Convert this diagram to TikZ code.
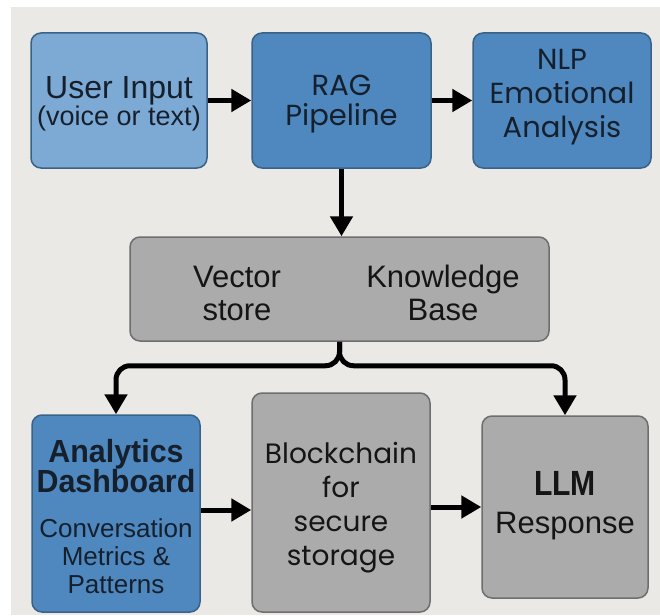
\documentclass[tikz,border=0pt]{standalone}
\usepackage{fontspec}
\setmainfont{Liberation Sans}
\newfontfamily\popfont{Poppins}
\newfontfamily\narrowfont[FakeStretch=0.86]{Liberation Sans}
\newfontfamily\semifont[FakeStretch=0.95]{Liberation Sans}
\usetikzlibrary{arrows.meta}
\definecolor{bgcol}{HTML}{EBE9E6}
\definecolor{lightblue}{HTML}{7DAAD4}
\definecolor{midblue}{HTML}{4E88BF}
\definecolor{blueedge}{HTML}{3A6289}
\definecolor{grayfill}{HTML}{ABABAB}
\definecolor{grayedge}{HTML}{6E6E6E}
\definecolor{navytext}{HTML}{16202D}
\definecolor{darktext}{HTML}{151515}
\begin{document}
\begin{tikzpicture}[x=1pt,y=-1pt,
  box/.style={draw, rounded corners=10pt, line width=1.5pt, inner sep=0pt},
  lbox/.style={box, fill=lightblue, draw=blueedge},
  bbox/.style={box, fill=midblue, draw=blueedge},
  gbox/.style={box, fill=grayfill, draw=grayedge},
  txt/.style={align=center, inner sep=0pt, anchor=base},
  arr/.style={line width=5pt, -{Triangle[length=20pt,width=22pt]}},
  branch/.style={line width=5pt, rounded corners=14pt, -{Triangle[length=20pt,width=22pt]}}
]
\useasboundingbox (0,0) rectangle (660,615);
\fill[white] (0,0) rectangle (660,615);
\fill[bgcol] (11,7) rectangle (660,615);

% boxes
\node[lbox, minimum width=176pt, minimum height=135pt] (ui) at (119,100.5) {};
\node[bbox, minimum width=179pt, minimum height=135pt] (rag) at (341.5,100.5) {};
\node[bbox, minimum width=178pt, minimum height=135pt] (nlp) at (562,100.5) {};
\node[gbox, minimum width=419pt, minimum height=104pt] (vks) at (339.5,289) {};
\node[bbox, minimum width=168pt, minimum height=197pt] (ana) at (116,513.5) {};
\node[gbox, minimum width=178pt, minimum height=219pt] (blk) at (341,502.5) {};
\node[gbox, minimum width=166pt, minimum height=182pt] (llm) at (565,507) {};

% texts (anchor = baseline of last line)
\node[txt, text=navytext, font=\fontsize{27}{27}\selectfont] (uit) at (119,125) {\fontsize{32}{27}\selectfont User Input\\\fontsize{27}{27}\selectfont (voice or text)};
\node[txt, text=navytext, font=\popfont\fontsize{29}{30}\selectfont] (ragt) at (341.5,125) {RAG\\Pipeline};
\node[txt, text=navytext, font=\popfont\fontsize{29}{33.5}\selectfont] (nlpt) at (562,137) {NLP\\Emotional\\Analysis};
\node[txt, text=darktext, font=\fontsize{31}{33}\selectfont] (vst) at (237,320) {Vector\\store};
\node[txt, text=darktext, font=\fontsize{31}{33}\selectfont] (kbt) at (443,320) {Knowledge\\Base};
\node[txt, text=navytext, font=\semifont\bfseries\fontsize{32}{30}\selectfont] (anat) at (116,492) {Analytics\\Dashboard};
\node[txt, text=navytext, font=\fontsize{26}{28}\selectfont] (cmpt) at (116,593) {Conversation\\Metrics \&\\Patterns};
\node[txt, text=darktext, font=\popfont\fontsize{28}{34}\selectfont] (blkt) at (341,565) {Blockchain\\for\\secure\\storage};
\node[txt, text=darktext, font=\fontsize{31}{38}\selectfont] (llmt) at (565,533) {{\narrowfont\bfseries\fontsize{35}{38}\selectfont LLM}\\Response};

% connectors
\draw[arr] (ui.east) -- (rag.west);
\draw[arr] (rag.east) -- (nlp.west);
\draw[arr] (rag.south) -- (rag.south |- vks.north);
\draw[branch] (vks.south) -- ++(0,24) -| (ana.north);
\draw[branch] (vks.south) -- ++(0,24) -| (llm.north);
\path ([yshift=3.5pt]ana.east) coordinate (anaout);
\draw[arr] (anaout) -- (anaout -| blk.west);
\draw[arr] (llm.west -| blk.east) -- (llm.west);
\end{tikzpicture}
\end{document}
